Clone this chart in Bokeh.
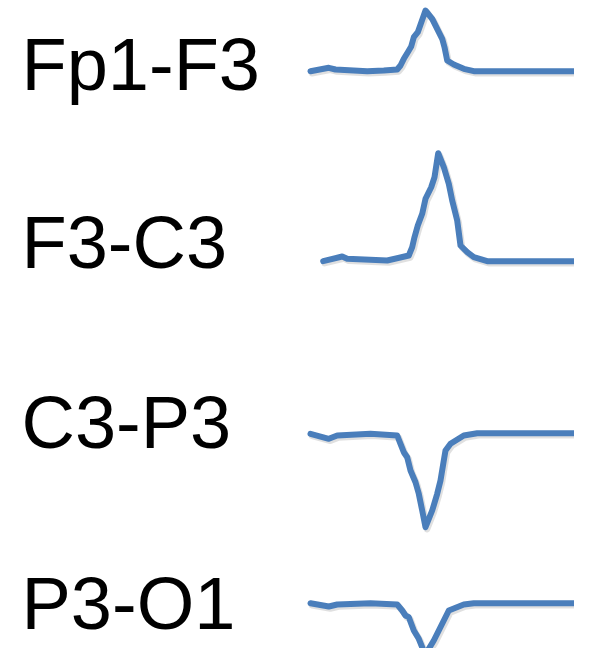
from bokeh.plotting import figure
from bokeh.models import Range1d
from bokeh.embed import file_html
from bokeh.resources import INLINE
from bokeh.core.properties import value

# Channel labels (bipolar montage)
channels = ["Fp1-F3", "F3-C3", "C3-P3", "P3-O1"]

# Baseline level of each trace (page units, downward)
baselines = [70.7, 260.7, 433.3, 602.7]
label_baselines = [92.7, 271.0, 450.5, 631.7]

# Time samples and deflections (positive = upward) per channel
t_fp1f3 = [310, 328.3, 335, 366.7, 383.3, 396.7, 400, 403.3, 407.3, 410.7, 413.3,
           417.3, 425, 431.7, 436.7, 441.7, 444, 446.7, 453.3, 463.3, 473.3, 576.7]
d_fp1f3 = [0, 3.4, 1.7, 0, 0.7, 1.7, 5.7, 12.4, 19, 24.7, 34,
           39, 60.7, 52.4, 42.4, 32.4, 24, 10.7, 6.7, 2.4, 0, 0]

t_f3c3 = [322.7, 341.7, 346.7, 386.7, 408.3, 411.7, 414, 417.3, 421.7, 425, 430.7,
          434, 437.7, 443.3, 448.3, 451.7, 456.7, 460, 466.7, 473.3, 486.7, 588.3]
d_f3c3 = [0, 4.7, 2.4, 0.7, 5.7, 14, 24, 35.7, 47.4, 62.4, 74,
          84, 108, 94, 77.4, 60.7, 40.7, 15.7, 9, 4, 0, 0]

t_c3p3 = [310, 328.3, 336.7, 370, 396.7, 400, 403.3, 406.7, 410, 415, 418.3,
          421.7, 425, 431.7, 436.7, 440, 443.3, 445, 450, 463.3, 476.7, 576.7]
d_c3p3 = [0, -5, -1.7, 0, -1.7, -10, -18.4, -23.4, -36.7, -48.4, -60,
          -76.7, -93.4, -76.7, -60, -46.7, -26.7, -16.7, -10, -1.7, 0.6, 0.6]

t_p3o1 = [310, 328.3, 336.7, 370, 396.7, 401.7, 405, 408.3, 413.3, 418.3, 425,
          428.3, 433.3, 438.3, 443.3, 448.3, 463.3, 473.3, 576.7]
d_p3o1 = [0, -3.3, -1.3, 0, -1.3, -7.3, -12.3, -14, -27.3, -35.6, -52.3,
          -45.6, -37.3, -27.3, -17.3, -7.3, -1.3, 0, 0]

times = [t_fp1f3, t_f3c3, t_c3p3, t_p3o1]
defls = [d_fp1f3, d_f3c3, d_c3p3, d_p3o1]

W, H = 574, 648
p = figure(width=W, height=H, output_backend="svg", toolbar_location=None,
           x_axis_type=None, y_axis_type=None,
           x_range=Range1d(0, W), y_range=Range1d(H, 0),
           min_border=0)
p.outline_line_color = None
p.grid.visible = False
p.background_fill_color = "white"
p.border_fill_color = "white"

line_color = "#4a7ebb"
for t, d, b in zip(times, defls, baselines):
    ys = [b - v for v in d]
    # soft shadow
    p.line([x + 1.5 for x in t], [y + 2.0 for y in ys], line_width=6.5,
           line_color="#000000", line_alpha=0.12, line_join="round", line_cap="round")
    p.line(t, ys, line_width=6, line_color=line_color,
           line_join="round", line_cap="round")

# compensate the renderer's alphabetic-baseline offset
label_y = [v - 29 for v in label_baselines]
p.text(x=[21] * len(channels), y=label_y, text=channels,
       text_font=value("Liberation Sans"), text_font_size="74px",
       text_color="black", text_baseline="alphabetic", text_align="left")

open("out.html", "w").write(file_html(p, INLINE))
